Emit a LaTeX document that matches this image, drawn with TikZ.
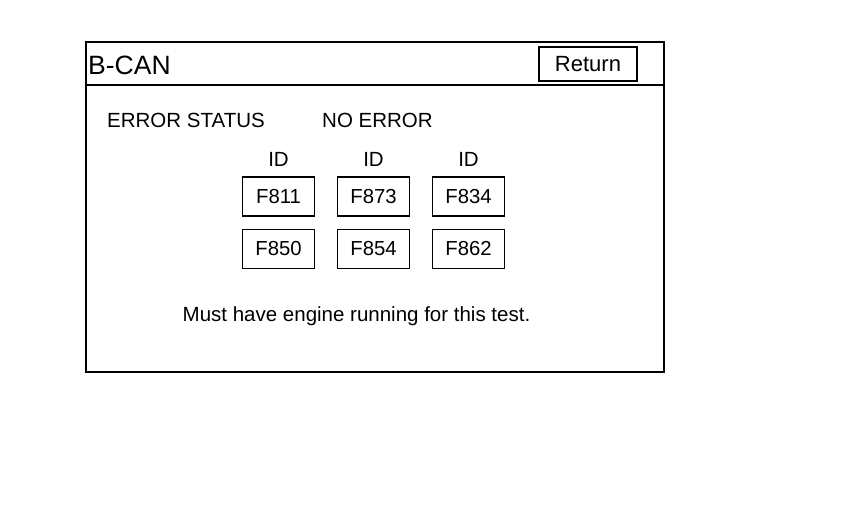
\documentclass[tikz,border=0pt]{standalone}
\usepackage{fontspec}
\setmainfont{Liberation Sans}

\tikzset{
	idbox/.style={rectangle,
		draw = black,
		text = black,
		align=center,
		line width=1.3pt,
		minimum width = 72pt,
		minimum height = 39pt,
		font=\fontsize{20.3}{24}\selectfont},
	txt/.style={text = black,
		inner sep=0pt,
		font=\fontsize{20.5}{24}\selectfont}
}

\begin{document}
\begin{tikzpicture}[x=1pt,y=-1pt]
	
	\useasboundingbox (0,0) rectangle (860,524);
	
	% screen frame and header
	\draw[line width=2.8pt] (86,42) rectangle (664,372);
	\draw[line width=1.4pt] (86,85) -- (664,85);
	
	\node[txt,
	anchor = base west,
	font=\fontsize{26.5}{30}\selectfont] (title) at (88,74.5) {B-CAN};
	
	\node[rectangle,
	draw = black,
	text = black,
	line width=1.3pt,
	minimum width = 98pt,
	minimum height = 34pt,
	font=\fontsize{22}{26}\selectfont] (ret) at (588,64) {Return};
	
	% status line
	\node[txt, anchor = base west] (errlbl) at (107,128) {ERROR STATUS};
	\node[txt, anchor = base west] (errval) at (322,128) {NO ERROR};
	
	% id boxes
	\node[idbox] (f811) at (278.5,196.5) {F811};
	\node[idbox] (f873) at (373.5,196.5) {F873};
	\node[idbox] (f834) at (468.5,196.5) {F834};
	
	\node[idbox] (f850) at (278.5,249) {F850};
	\node[idbox] (f854) at (373.5,249) {F854};
	\node[idbox] (f862) at (468.5,249) {F862};
	
	\node[txt, anchor = base] (id1) at (278.5,167) {ID};
	\node[txt, anchor = base] (id2) at (373.5,167) {ID};
	\node[txt, anchor = base] (id3) at (468.5,167) {ID};
	
	\node[txt, anchor = base] (note) at (356.5,321) {Must have engine running for this test.};
	
\end{tikzpicture}
\end{document}
